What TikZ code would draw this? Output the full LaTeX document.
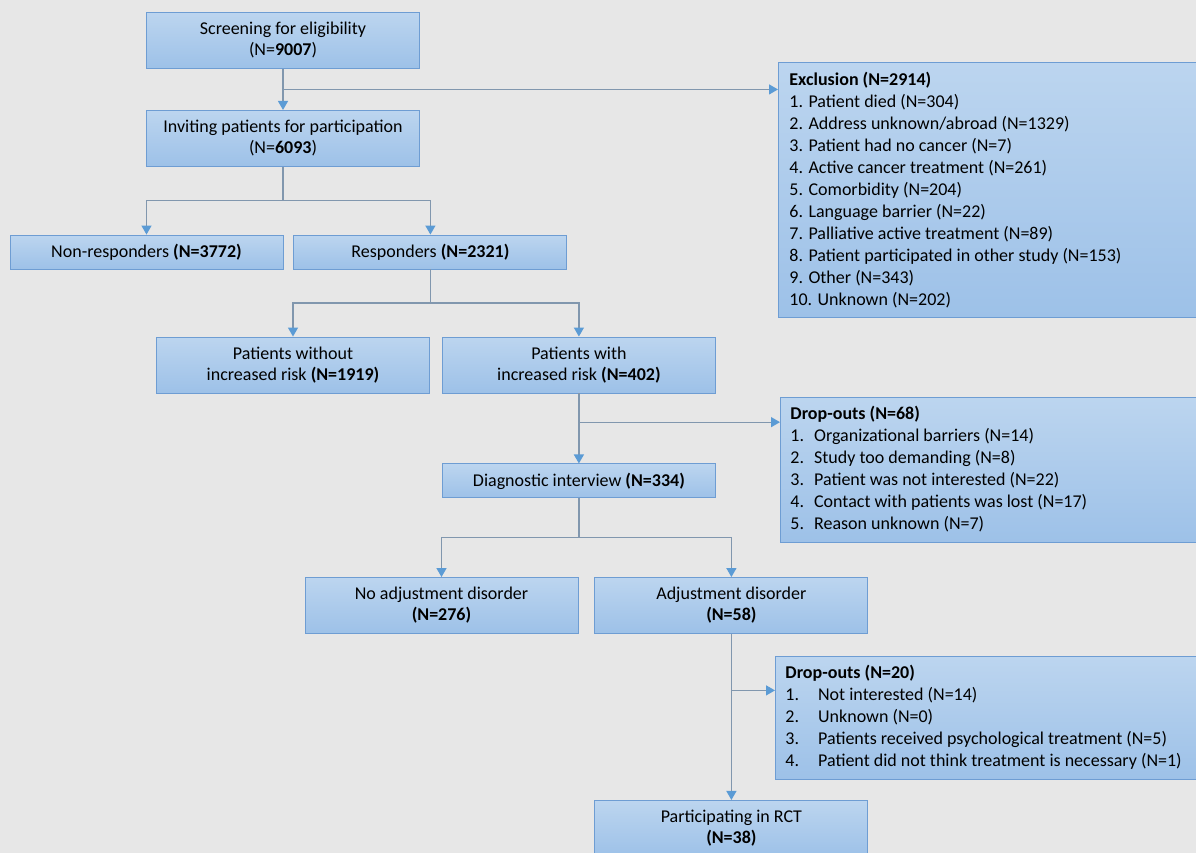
\documentclass[tikz,border=0pt]{standalone}
\usepackage{fontspec}
\setmainfont{Carlito}
\usetikzlibrary{positioning,calc,arrows.meta}
\definecolor{bgray}{HTML}{E7E7E7}
\definecolor{boxtop}{HTML}{BCD5EF}
\definecolor{boxbot}{HTML}{9DC1E8}
\definecolor{boxline}{HTML}{6E9DD3}
\definecolor{linkgray}{HTML}{8197AE}
\definecolor{tipblue}{HTML}{5B9BD5}

\tikzset{
  flowbox/.style={rectangle, draw=boxline, line width=0.9pt, top color=boxtop, bottom color=boxbot,
    minimum width=273pt, inner sep=0pt, align=center, font=\fontsize{18}{21}\selectfont},
  tallbox/.style={flowbox, minimum height=56pt},
  flatbox/.style={flowbox, minimum height=34pt},
  listbox/.style={rectangle, draw=boxline, line width=0.9pt, top color=boxtop, bottom color=boxbot,
    anchor=north west, align=left, inner sep=0pt, font=\fontsize{18}{22}\selectfont},
  link/.style={draw=linkgray, line width=1.3pt},
  linkarrow/.style={link, -{Triangle[width=10pt,length=9pt,color=tipblue]}}
}

\begin{document}
\begin{tikzpicture}[x=1pt,y=1pt]
   \fill[bgray] (0,0) rectangle (1196,-853);
   \useasboundingbox (0,0) rectangle (1196,-853);
   \clip (0,0) rectangle (1196,-853);

   % main column
   \node[tallbox] (screen) at (283,-40.5) {Screening for eligibility\\(N=\textbf{9007})};
   \node[tallbox] (invite) [below=41pt of screen] {Inviting patients for participation\\(N=\textbf{6093})};
   \node[flatbox] (nonresp) at (146.5,-252) {Non-responders \textbf{(N=3772)}};
   \node[flatbox] (resp) [right=10pt of nonresp] {Responders \textbf{(N=2321)}};
   \node[tallbox] (norisk) at (293,-365) {Patients without\\increased risk \textbf{(N=1919)}};
   \node[tallbox] (risk) [right=12pt of norisk] {Patients with\\increased risk \textbf{(N=402)}};
   \node[flatbox] (interview) [below=70pt of risk] {Diagnostic interview \textbf{(N=334)}};
   \node[tallbox] (noadj) at (441.5,-605.5) {No adjustment disorder\\\textbf{(N=276)}};
   \node[tallbox] (adj) [right=16pt of noadj] {Adjustment disorder\\\textbf{(N=58)}};
   \node[tallbox] (rct) [below=166pt of adj] {Participating in RCT\\\textbf{(N=38)}};

   % side boxes
   \node[listbox, minimum width=422pt, minimum height=255pt] (excl) at (778,-62) {%
     \begin{minipage}[c][255pt][c]{400pt}
     \textbf{Exclusion (N=2914)}\\
     1. Patient died (N=304)\\
     2. Address unknown/abroad (N=1329)\\
     3. Patient had no cancer (N=7)\\
     4. Active cancer treatment (N=261)\\
     5. Comorbidity (N=204)\\
     6. Language barrier (N=22)\\
     7. Palliative active treatment (N=89)\\
     8. Patient participated in other study (N=153)\\
     9. Other (N=343)\\
     10. Unknown (N=202)
     \end{minipage}};
   \node[listbox, minimum width=420pt, minimum height=145pt] (drop1) at (780,-397) {%
     \begin{minipage}[c][145pt][c]{400pt}
     \begin{tabular}{@{}l@{\hspace{10pt}}l@{}}
     \multicolumn{2}{@{}l}{\textbf{Drop-outs (N=68)}}\\
     1. & Organizational barriers (N=14)\\
     2. & Study too demanding (N=8)\\
     3. & Patient was not interested (N=22)\\
     4. & Contact with patients was lost (N=17)\\
     5. & Reason unknown (N=7)
     \end{tabular}
     \end{minipage}};
   \node[listbox, minimum width=425pt, minimum height=123pt] (drop2) at (775,-656) {%
     \begin{minipage}[c][123pt][c]{405pt}
     \begin{tabular}{@{}l@{\hspace{19pt}}l@{}}
     \multicolumn{2}{@{}l}{\textbf{Drop-outs (N=20)}}\\
     1. & Not interested (N=14)\\
     2. & Unknown (N=0)\\
     3. & Patients received psychological treatment (N=5)\\
     4. & Patient did not think treatment is necessary (N=1)
     \end{tabular}
     \end{minipage}};

   % junction points
   \coordinate (j1) at ($(screen.south)!0.5!(invite.north)$);
   \coordinate (j2) at ($(invite.south)!0.5!(invite.south |- resp.north)$);
   \coordinate (j3) at ($(resp.south)!0.5!(resp.south |- risk.north)$);
   \coordinate (j4) at ($(risk.south)!0.41!(interview.north)$);
   \coordinate (j5) at ($(interview.south)!0.5!(interview.south |- adj.north)$);
   \coordinate (j6) at ($(adj.south)!0.34!(rct.north)$);

   % connectors
   \draw[linkarrow] (screen) -- (invite);
   \draw[linkarrow] (j1) -- (j1 -| excl.west);
   \draw[link] (invite) -- (j2);
   \draw[linkarrow] (j2) -| (nonresp);
   \draw[linkarrow] (j2) -| (resp);
   \draw[link] (resp) -- (j3);
   \draw[linkarrow] (j3) -| (norisk);
   \draw[linkarrow] (j3) -| (risk);
   \draw[linkarrow] (risk) -- (interview);
   \draw[linkarrow] (j4) -- (j4 -| drop1.west);
   \draw[link] (interview) -- (j5);
   \draw[linkarrow] (j5) -| (noadj);
   \draw[linkarrow] (j5) -| (adj);
   \draw[linkarrow] (adj) -- (rct);
   \draw[linkarrow] (j6) -- (j6 -| drop2.west);
\end{tikzpicture}
\end{document}
